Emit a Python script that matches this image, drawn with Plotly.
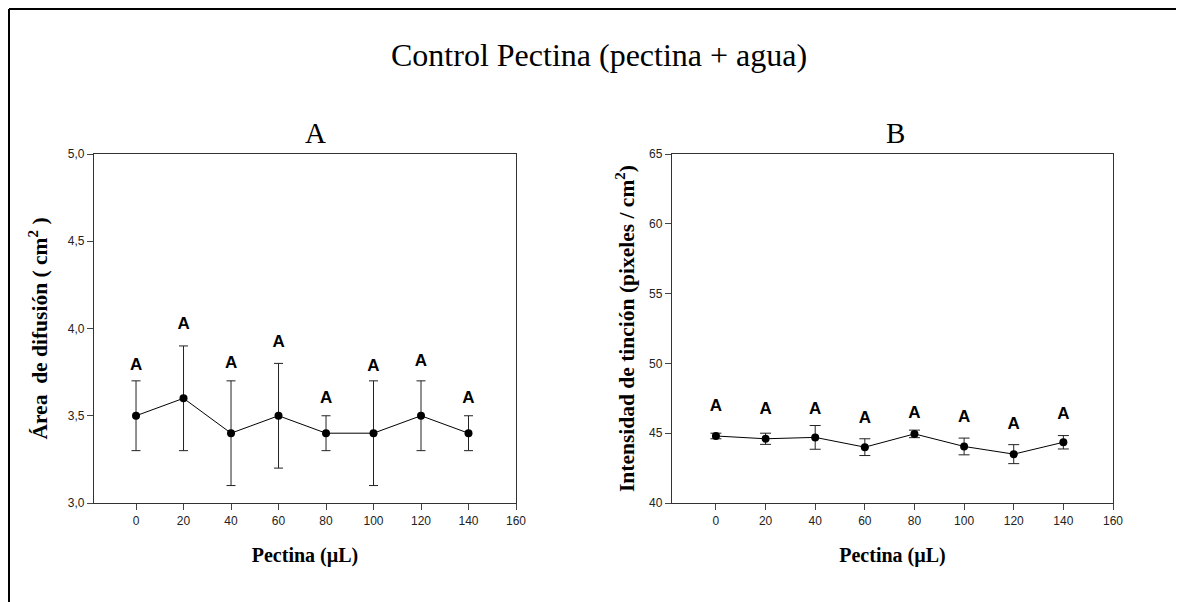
import plotly.graph_objects as go

# ---------------- data ----------------
pectina = [0, 20, 40, 60, 80, 100, 120, 140]

area_mean = [3.5, 3.6, 3.4, 3.5, 3.4, 3.4, 3.5, 3.4]
area_err = [0.2, 0.3, 0.3, 0.3, 0.1, 0.3, 0.2, 0.1]
area_letters = ["A", "A", "A", "A", "A", "A", "A", "A"]
area_letter_y = [3.785, 4.02, 3.80, 3.92, 3.60, 3.78, 3.81, 3.60]

tincion_mean = [44.8, 44.6, 44.7, 44.0, 44.95, 44.05, 43.5, 44.35]
tincion_err = [0.2, 0.4, 0.85, 0.6, 0.27, 0.6, 0.68, 0.48]
tincion_letters = ["A", "A", "A", "A", "A", "A", "A", "A"]
tincion_letter_y = [46.93, 46.65, 46.65, 46.0, 46.36, 46.09, 45.57, 46.34]

x_ticks = [0, 20, 40, 60, 80, 100, 120, 140, 160]
area_ticks = [3.0, 3.5, 4.0, 4.5, 5.0]
tincion_ticks = [40, 45, 50, 55, 60, 65]

main_title = "Control Pectina (pectina + agua)"
panel_titles = ["A", "B"]
x_title = "Pectina (µL)"
area_title = "Área  de difusión ( cm<sup>2</sup> )"
tincion_title = "Intensidad de tinción (pixeles / cm<sup>2</sup>)"

# ---------------- figure ----------------
# the page body adds an 8px offset; figure sized so it fits the window
OFF = 8
W, H = 1184 - OFF, 602 - OFF
ML = 94 - OFF
MT = 154 - OFF
MR = W - (1113 - OFF)
MB = H - (503 - OFF)
PW = W - ML - MR
PH = H - MT - MB


def px_x(X):
    """screen x (reference pixel) -> paper coordinate"""
    return (X - OFF - ML) / PW


def px_y(Y):
    """screen y (reference pixel) -> paper coordinate"""
    return (H - MB - (Y - OFF)) / PH


SERIF = "Liberation Serif, Times New Roman, serif"
SANS = "Liberation Sans, Arial, sans-serif"

fig = go.Figure()

fig.add_trace(go.Scatter(
    x=pectina, y=area_mean, mode="lines+markers",
    line=dict(color="black", width=1),
    marker=dict(color="black", size=8),
    error_y=dict(type="data", array=area_err, color="#222", thickness=1, width=4.5),
    xaxis="x", yaxis="y", showlegend=False, cliponaxis=False,
))
fig.add_trace(go.Scatter(
    x=pectina, y=area_letter_y, mode="text", text=area_letters,
    textposition="middle center",
    textfont=dict(family=SANS, size=17, color="black", weight="bold"),
    xaxis="x", yaxis="y", showlegend=False, cliponaxis=False,
))

fig.add_trace(go.Scatter(
    x=pectina, y=tincion_mean, mode="lines+markers",
    line=dict(color="black", width=1),
    marker=dict(color="black", size=8),
    error_y=dict(type="data", array=tincion_err, color="#222", thickness=1, width=5.5),
    xaxis="x2", yaxis="y2", showlegend=False, cliponaxis=False,
))
fig.add_trace(go.Scatter(
    x=pectina, y=tincion_letter_y, mode="text", text=tincion_letters,
    textposition="middle center",
    textfont=dict(family=SANS, size=17, color="black", weight="bold"),
    xaxis="x2", yaxis="y2", showlegend=False, cliponaxis=False,
))

axis_common = dict(
    showline=True, linecolor="#333", linewidth=1.3, mirror=True,
    ticks="outside", ticklen=6, tickcolor="#444", tickwidth=1,
    showgrid=False, zeroline=False,
    tickfont=dict(family=SANS, size=12, color="#222"),
)

dom_a = [0, px_x(516)]
dom_b = [px_x(672), 1]

fig.update_layout(
    width=W, height=H,
    margin=dict(l=ML, r=MR, t=MT, b=MB),
    paper_bgcolor="white", plot_bgcolor="white",
    separators=",.",
    xaxis=dict(domain=dom_a, range=[-17.7, 160], tickvals=x_ticks, anchor="y",
               title=dict(text=x_title, font=dict(family=SERIF, size=20, color="black", weight="bold"), standoff=21),
               **axis_common),
    yaxis=dict(domain=[0, 1], range=[3.0, 5.0], tickvals=area_ticks, tickformat=".1f", anchor="x",
               title=dict(text=area_title, font=dict(family=SERIF, size=21.5, color="black", weight="bold"), standoff=14),
               **axis_common),
    xaxis2=dict(domain=dom_b, range=[-17.7, 160], tickvals=x_ticks, anchor="y2",
                title=dict(text=x_title, font=dict(family=SERIF, size=20, color="black", weight="bold"), standoff=21),
                **axis_common),
    yaxis2=dict(domain=[0, 1], range=[40, 65], tickvals=tincion_ticks, anchor="x2",
                title=dict(text=tincion_title, font=dict(family=SERIF, size=21.5, color="black", weight="bold"), standoff=8),
                **axis_common),
)

fig.add_annotation(text=main_title, xref="paper", yref="paper",
                   x=px_x(599), y=px_y(55), xanchor="center", yanchor="middle",
                   showarrow=False, font=dict(family=SERIF, size=32, color="black"))
for t, cx in zip(panel_titles, [315, 895]):
    fig.add_annotation(text=t, xref="paper", yref="paper",
                       x=px_x(cx), y=px_y(133), xanchor="center", yanchor="middle",
                       showarrow=False, font=dict(family=SERIF, size=29, color="black"))

# outer frame (top and left edges visible)
fig.add_shape(type="line", xref="paper", yref="paper",
              x0=px_x(9), x1=px_x(1184), y0=px_y(9), y1=px_y(9),
              line=dict(color="black", width=2))
fig.add_shape(type="line", xref="paper", yref="paper",
              x0=px_x(9), x1=px_x(9), y0=px_y(9), y1=px_y(602),
              line=dict(color="black", width=2))

fig.write_html("out.html")
